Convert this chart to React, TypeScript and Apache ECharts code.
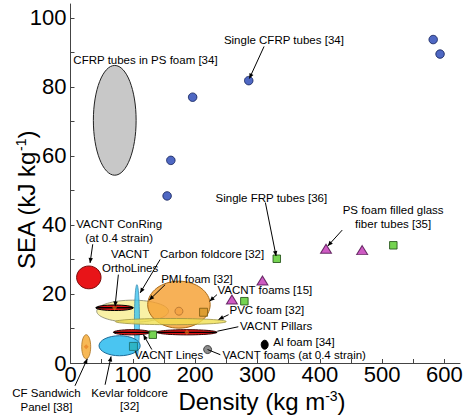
import React, { useEffect, useRef } from "react";
import * as echarts from "echarts";

// ---- axes ----
const xTickValues = [0, 50, 100, 150, 200, 250, 300, 350, 400, 450, 500, 550, 600];
const xLabelValues = [0, 100, 200, 300, 400, 500, 600];
const yTickValues = [0, 10, 20, 30, 40, 50, 60, 70, 80, 90, 100];
const yLabelValues = [0, 20, 40, 60, 80, 100];

// ---- point markers (density, SEA) ----
const singleCfrpTubes = [[155, 48.4], [161, 58.7], [196, 77], [286, 81.8], [582, 93.7], [593, 89.5]];
const triangleSeries = [[259, 18.4], [308, 23.9], [410, 33.1], [468, 32.7]];
const squareSeries = [[132, 8.2], [279, 17.9], [331, 30.2], [518, 34.1]];
const pmiSquare = [[213.5, 14.7]];
const kevlarSquare = [[101, 4.8]];
const vacntStrainPoint = [[220, 3.9]];
const vacntFoamCircle = [[174, 15]];
const centerDiamonds = [[70.7, 16], [186.8, 8.9], [25.2, 4.7]];

// ---- ellipses: centre (density, SEA) and half-ranges ----
const ellipseNames = ["cfrpPs", "conRing", "pmi", "carbonFoldcore", "vacntFoams", "pvc", "kevlar", "cfSandwich", "orthoLines", "lines", "pillars", "alFoam"];
const ellipseCx = [71, 29.4, 99.7, 106.6, 174, 161, 78.8, 25.2, 70.7, 98.4, 186.8, 311.6];
const ellipseCy = [70.3, 24.8, 15, 12.3, 16.9, 12, 5.0, 4.7, 16, 8.9, 8.9, 5.3];
const ellipseRx = [34.3, 19.6, 57.6, 4, 50.1, 89, 33, 7.2, 30, 29.5, 48.2, 5.6];
const ellipseRy = [15.9, 3.3, 3.2, 10.4, 6.8, 0.9, 2.9, 3.5, 0.8, 0.75, 0.75, 1.3];

// ---- annotations ----
const annTexts = [
  "CFRP tubes in PS foam [34]",
  "Single CFRP tubes [34]",
  "Single FRP tubes [36]",
  "PS foam filled glass\nfiber tubes [35]",
  "VACNT ConRing\n(at 0.4 strain)",
  "VACNT\nOrthoLines",
  "Carbon foldcore [32]",
  "PMI foam [32]",
  "VACNT foams [15]",
  "PVC foam [32]",
  "VACNT Pillars",
  "Al foam [34]",
  "VACNT foams (at 0.4 strain)",
  "VACNT Lines",
  "CF Sandwich\nPanel [38]",
  "Kevlar foldcore\n[32]",
];
const annX = [120.3, 342.4, 322.3, 517.7, 78, 95.7, 227.2, 202.9, 311.9, 315.1, 329.9, 374.6, 359, 158, -38.6, 94.9];
const annY = [87.9, 93.7, 47.7, 42.3, 38.2, 29.5, 31.5, 24.2, 21.1, 15.3, 10.6, 6.0, 2.2, 2.4, -10.7, -10.6];
const arrowFrom: (number[] | null)[] = [
  null, [310.6, 91.7], [312.7, 46.5], [436, 38.5], [35.7, 34.4], [76.8, 25.6], [143.9, 30.0], [151.9, 22.7],
  [235, 19.8], [253.7, 14.0], [269.3, 10.5], null, [219.9, 3.9], [130.5, 3.9], [7.2, -6.6], [55.5, -6.3],
];
const arrowTo: (number[] | null)[] = [
  null, [287, 82.4], [329.9, 31.0], [412.9, 33.9], [31.4, 29.0], [71.5, 16.4], [111.7, 20.3], [126.2, 18.2],
  [223.2, 17.9], [237.6, 12.6], [235.5, 9.2], null, [240.4, 2.4], [117, 8.2], [27, 1.2], [65.1, 1.9],
];

const FONT = "'Liberation Sans', Arial, sans-serif";

const ellipseStyles: Record<string, { fill: string; stroke: string; lw: number; axis?: boolean }> = {
  cfrpPs: { fill: "rgba(200,200,200,1)", stroke: "#222", lw: 1 },
  conRing: { fill: "rgba(232,20,24,1)", stroke: "#7a0a0a", lw: 1 },
  pmi: { fill: "rgba(248,238,150,0.85)", stroke: "#9a9a80", lw: 1 },
  carbonFoldcore: { fill: "rgba(60,196,240,0.8)", stroke: "#3a8ab0", lw: 0.8 },
  vacntFoams: { fill: "rgba(245,160,50,0.82)", stroke: "#a86a18", lw: 1 },
  pvc: { fill: "rgba(240,224,80,0.8)", stroke: "#9a9040", lw: 0.8 },
  kevlar: { fill: "rgba(64,194,240,0.95)", stroke: "#1a6a98", lw: 1 },
  cfSandwich: { fill: "rgba(247,180,76,0.95)", stroke: "#a87020", lw: 0.8 },
  orthoLines: { fill: "rgba(225,20,20,1)", stroke: "#000", lw: 1, axis: true },
  lines: { fill: "rgba(225,20,20,1)", stroke: "#300", lw: 1, axis: true },
  pillars: { fill: "rgba(225,20,20,1)", stroke: "#300", lw: 1, axis: true },
  alFoam: { fill: "#000", stroke: "#000", lw: 1 },
};

function buildOption() {
  const ellipseData = ellipseNames.map((_, i) => [ellipseCx[i], ellipseCy[i], ellipseRx[i], ellipseRy[i]]);
  const annData = annTexts.map((_, i) => [annX[i], annY[i]]);

  return {
    animation: false,
    backgroundColor: "#fff",
    grid: { left: 70.5, right: 7, top: 4, bottom: 54 },
    xAxis: {
      type: "value",
      min: 0,
      max: 625,
      splitLine: { show: false },
      axisLine: { show: true, onZero: false, lineStyle: { color: "#444", width: 1 } },
      axisTick: { show: true, inside: true, length: 4, customValues: xTickValues, lineStyle: { color: "#444" } },
      axisLabel: { customValues: xLabelValues, fontSize: 22, color: "#000", fontFamily: FONT, margin: 0 },
    },
    yAxis: {
      type: "value",
      min: 0,
      max: 104,
      splitLine: { show: false },
      axisLine: { show: true, onZero: false, lineStyle: { color: "#444", width: 1 } },
      axisTick: { show: true, inside: true, length: 4, customValues: yTickValues, lineStyle: { color: "#444" } },
      axisLabel: { customValues: yLabelValues, fontSize: 22, color: "#000", fontFamily: FONT, margin: 4 },
    },
    graphic: [
      {
        type: "text",
        x: 262,
        y: 401,
        style: {
          text: "Density (kg m{sup|-3})",
          fontSize: 24,
          fontFamily: FONT,
          fill: "#000",
          align: "center",
          verticalAlign: "middle",
          rich: { sup: { fontSize: 14, verticalAlign: "top", fontFamily: FONT, padding: [0, 0, 10, 0] } },
        },
      },
      {
        type: "text",
        x: 26,
        y: 200,
        rotation: Math.PI / 2,
        style: {
          text: "SEA (kJ kg{sup|-1})",
          fontSize: 24,
          fontFamily: FONT,
          fill: "#000",
          align: "center",
          verticalAlign: "middle",
          rich: { sup: { fontSize: 14, verticalAlign: "top", fontFamily: FONT, padding: [0, 0, 10, 0] } },
        },
      },
    ],
    series: [
      {
        type: "custom",
        name: "regions",
        clip: false,
        data: ellipseData,
        renderItem: (params: any, api: any) => {
          const i = params.dataIndex;
          const c = api.coord([api.value(0), api.value(1)]);
          const s = api.size([api.value(2), api.value(3)]);
          const st = ellipseStyles[ellipseNames[i]];
          const children: any[] = [
            {
              type: "ellipse",
              shape: { cx: c[0], cy: c[1], rx: s[0], ry: s[1] },
              style: { fill: st.fill, stroke: st.stroke, lineWidth: st.lw },
            },
          ];
          if (st.axis) {
            children.push({
              type: "line",
              shape: { x1: c[0] - s[0], y1: c[1], x2: c[0] + s[0], y2: c[1] },
              style: { stroke: "#000", lineWidth: 1.3 },
            });
          }
          return { type: "group", children };
        },
        z: 2,
      },
      {
        type: "scatter",
        data: singleCfrpTubes,
        symbol: "circle",
        symbolSize: 8.5,
        itemStyle: { color: "#2342b4", borderColor: "#0b1a55", borderWidth: 1 },
        z: 5,
      },
      {
        type: "scatter",
        data: triangleSeries,
        symbol: "triangle",
        symbolSize: [11, 9],
        itemStyle: { color: "#c232b4", borderColor: "#4a0c48", borderWidth: 1 },
        z: 5,
      },
      {
        type: "scatter",
        data: squareSeries,
        symbol: "rect",
        symbolSize: 7.5,
        itemStyle: { color: "#52c826", borderColor: "#1c4a10", borderWidth: 1 },
        z: 5,
      },
      {
        type: "scatter",
        data: pmiSquare,
        symbol: "rect",
        symbolSize: 8,
        itemStyle: { color: "rgba(200,140,20,0.7)", borderColor: "#7a5a10", borderWidth: 1 },
        z: 5,
      },
      {
        type: "scatter",
        data: kevlarSquare,
        symbol: "rect",
        symbolSize: 8,
        itemStyle: { color: "rgba(30,170,170,0.75)", borderColor: "#1a6a6a", borderWidth: 1 },
        z: 5,
      },
      {
        type: "scatter",
        data: vacntStrainPoint,
        symbol: "circle",
        symbolSize: 8,
        itemStyle: { color: "#707070", borderColor: "#222", borderWidth: 1 },
        z: 5,
      },
      {
        type: "scatter",
        data: vacntFoamCircle,
        symbol: "circle",
        symbolSize: 8,
        itemStyle: { color: "rgba(240,150,50,0.6)", borderColor: "#b07030", borderWidth: 1 },
        z: 5,
      },
      {
        type: "scatter",
        data: centerDiamonds,
        symbol: "diamond",
        symbolSize: 5,
        itemStyle: { color: "rgba(230,120,30,0.8)" },
        z: 5,
      },
      {
        type: "custom",
        name: "annotations",
        clip: false,
        data: annData,
        renderItem: (params: any, api: any) => {
          const i = params.dataIndex;
          const p = api.coord([annX[i], annY[i]]);
          const children: any[] = [
            {
              type: "text",
              x: p[0],
              y: p[1],
              style: {
                text: annTexts[i],
                fill: "#000",
                fontSize: 11.5,
                fontFamily: FONT,
                align: "center",
                verticalAlign: "middle",
                lineHeight: 13.5,
              },
            },
          ];
          const f = arrowFrom[i];
          const t = arrowTo[i];
          if (f && t) {
            const a = api.coord(f);
            const b = api.coord(t);
            children.push({
              type: "line",
              shape: { x1: a[0], y1: a[1], x2: b[0], y2: b[1] },
              style: { stroke: "#000", lineWidth: 1 },
            });
            if (i !== 12 && i !== 10) {
              const dx = b[0] - a[0];
              const dy = b[1] - a[1];
              const len = Math.sqrt(dx * dx + dy * dy) || 1;
              const ux = dx / len;
              const uy = dy / len;
              const L = 5;
              const W = 2.2;
              children.push({
                type: "polygon",
                shape: {
                  points: [
                    [b[0], b[1]],
                    [b[0] - ux * L - uy * W, b[1] - uy * L + ux * W],
                    [b[0] - ux * L + uy * W, b[1] - uy * L - ux * W],
                  ],
                },
                style: { fill: "#000" },
              });
            }
          }
          return { type: "group", children };
        },
        z: 10,
      },
    ],
  };
}

export default function App() {
  const ref = useRef<HTMLDivElement>(null);
  useEffect(() => {
    const chart = echarts.init(ref.current!, null, { renderer: "svg" });
    chart.setOption(buildOption() as any);
    return () => chart.dispose();
  }, []);
  return <div ref={ref} style={{ position: "absolute", left: 0, top: 0, width: 467, height: 417 }} />;
}
